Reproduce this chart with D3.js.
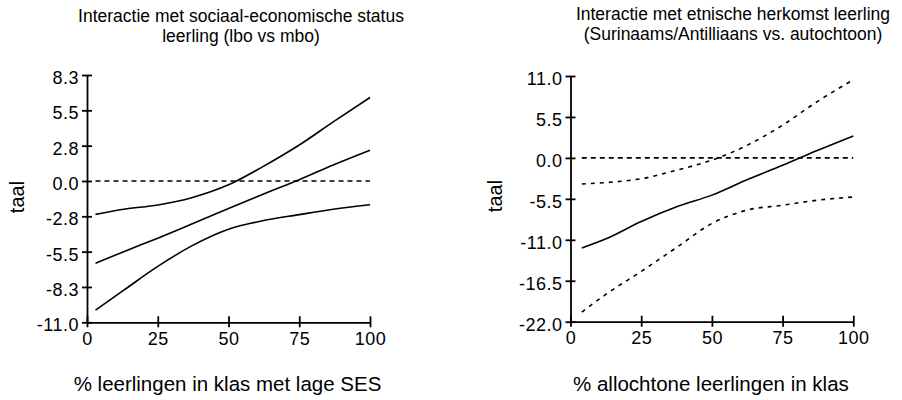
<!DOCTYPE html>
<html>
<head>
<meta charset="utf-8">
<script src="https://cdn.jsdelivr.net/npm/d3@7"></script>
<style>
  body { margin: 0; background: #fff; }
  svg { display: block; font-family: "Liberation Sans", Arial, sans-serif; }
  .tick text { font-size: 18px; letter-spacing: 0.5px; fill: #000; }
</style>
</head>
<body>
<div id="chart"></div>
<script>
// left panel: % leerlingen met lage SES
var sesX     = [3, 13, 25, 37, 50, 62, 75, 87, 100];
var sesMid   = [-6.4, -5.5, -4.45, -3.35, -2.15, -1.05, 0.1, 1.25, 2.4];
var sesUpper = [-2.6, -2.2, -1.87, -1.3, -0.3, 1.1, 2.8, 4.6, 6.5];
var sesLower = [-10.05, -8.5, -6.65, -5.05, -3.75, -3.1, -2.62, -2.2, -1.85];
var sesZero  = [3, 100];
var sesYTicks = [-11, -8.25, -5.5, -2.75, 0, 2.75, 5.5, 8.25];

// right panel: % allochtone leerlingen
var ethX     = [4, 13, 25, 38, 50, 62, 75, 87, 100];
var ethMid   = [-12.1, -10.8, -8.55, -6.5, -5.0, -3.0, -1.0, 0.95, 2.95];
var ethUpper = [-3.5, -3.3, -2.8, -1.6, -0.3, 1.6, 4.4, 7.5, 10.5];
var ethLower = [-20.7, -18.2, -15.25, -11.9, -8.8, -7.05, -6.35, -5.7, -5.25];
var ethZero  = [4, 100];
var ethYTicks = [-22, -16.5, -11, -5.5, 0, 5.5, 11];

var xTicks = [0, 25, 50, 75, 100];

var svg = d3.select("#chart")
    .append("svg")
    .attr("width", 902)
    .attr("height", 400);

function panel(p) {
    var x = d3.scaleLinear().domain([0, 100]).range([p.left, p.right]);
    var y = d3.scaleLinear().domain(p.ydom).range([p.bottom, p.top]);
    var g = svg.append("g");

    // titles
    p.title.forEach(function(t, i) {
        g.append("text")
            .attr("x", p.titleX)
            .attr("y", p.titleY + i * 19.5)
            .attr("text-anchor", "middle")
            .style("font-size", "17.5px")
            .text(t);
    });

    // axes, ticks cross the axis line
    var ya = g.append("g")
        .attr("transform", "translate(" + p.left + ",0)")
        .call(d3.axisLeft(y).tickValues(p.yticks).tickSize(5).tickSizeOuter(0).tickPadding(3)
              .tickFormat(function(d) { return d.toFixed(1); }));
    ya.selectAll(".tick line").attr("x1", 5);
    ya.selectAll(".tick text").attr("dy", "0.47em");

    var xa = g.append("g")
        .attr("transform", "translate(0," + p.bottom + ")")
        .call(d3.axisBottom(x).tickValues(xTicks).tickSize(5).tickSizeOuter(0).tickPadding(5)
              .tickFormat(d3.format("d")));
    xa.selectAll(".tick line").attr("y1", -6);

    g.selectAll(".domain, .tick line").attr("stroke", "#000").attr("stroke-width", 1.8);

    // axis titles
    g.append("text")
        .attr("x", (p.left + p.right) / 2 - 1)
        .attr("y", 391)
        .attr("text-anchor", "middle")
        .style("font-size", "20.5px")
        .text(p.xlabel);
    g.append("text")
        .attr("transform", "translate(" + p.ylabX + "," + p.ylabY + ") rotate(-90)")
        .attr("text-anchor", "middle")
        .style("font-size", "20px")
        .text("taal");

    var line = d3.line()
        .x(function(d) { return x(d[0]); })
        .y(function(d) { return y(d[1]); })
        .curve(d3.curveMonotoneX);

    g.append("path")
        .datum(p.zero.map(function(v) { return [v, 0]; }))
        .attr("d", line)
        .attr("fill", "none")
        .attr("stroke", "#000")
        .attr("stroke-width", 1.6)
        .attr("stroke-dasharray", "5,4");

    p.series.forEach(function(s) {
        g.append("path")
            .datum(p.xs.map(function(v, i) { return [v, s.values[i]]; }))
            .attr("d", line)
            .attr("fill", "none")
            .attr("stroke", "#000")
            .attr("stroke-width", 1.6)
            .attr("stroke-dasharray", s.dash);
    });
}

panel({
    left: 87, right: 370, top: 75, bottom: 322.3,
    ydom: [-11, 8.25], yticks: sesYTicks,
    title: ["Interactie met sociaal-economische status", "leerling (lbo vs mbo)"],
    titleX: 241, titleY: 22,
    xlabel: "% leerlingen in klas met lage SES",
    ylabX: 24, ylabY: 197,
    xs: sesX, zero: sesZero,
    series: [
        {values: sesUpper, dash: null},
        {values: sesMid, dash: null},
        {values: sesLower, dash: null}
    ]
});

panel({
    left: 570.5, right: 853.3, top: 76, bottom: 321.7,
    ydom: [-22, 11], yticks: ethYTicks,
    title: ["Interactie met etnische herkomst leerling", "(Surinaams/Antilliaans vs. autochtoon)"],
    titleX: 733, titleY: 20,
    xlabel: "% allochtone leerlingen in klas",
    ylabX: 502, ylabY: 196,
    xs: ethX, zero: ethZero,
    series: [
        {values: ethUpper, dash: "4,5"},
        {values: ethMid, dash: null},
        {values: ethLower, dash: "4,5"}
    ]
});
</script>
</body>
</html>
